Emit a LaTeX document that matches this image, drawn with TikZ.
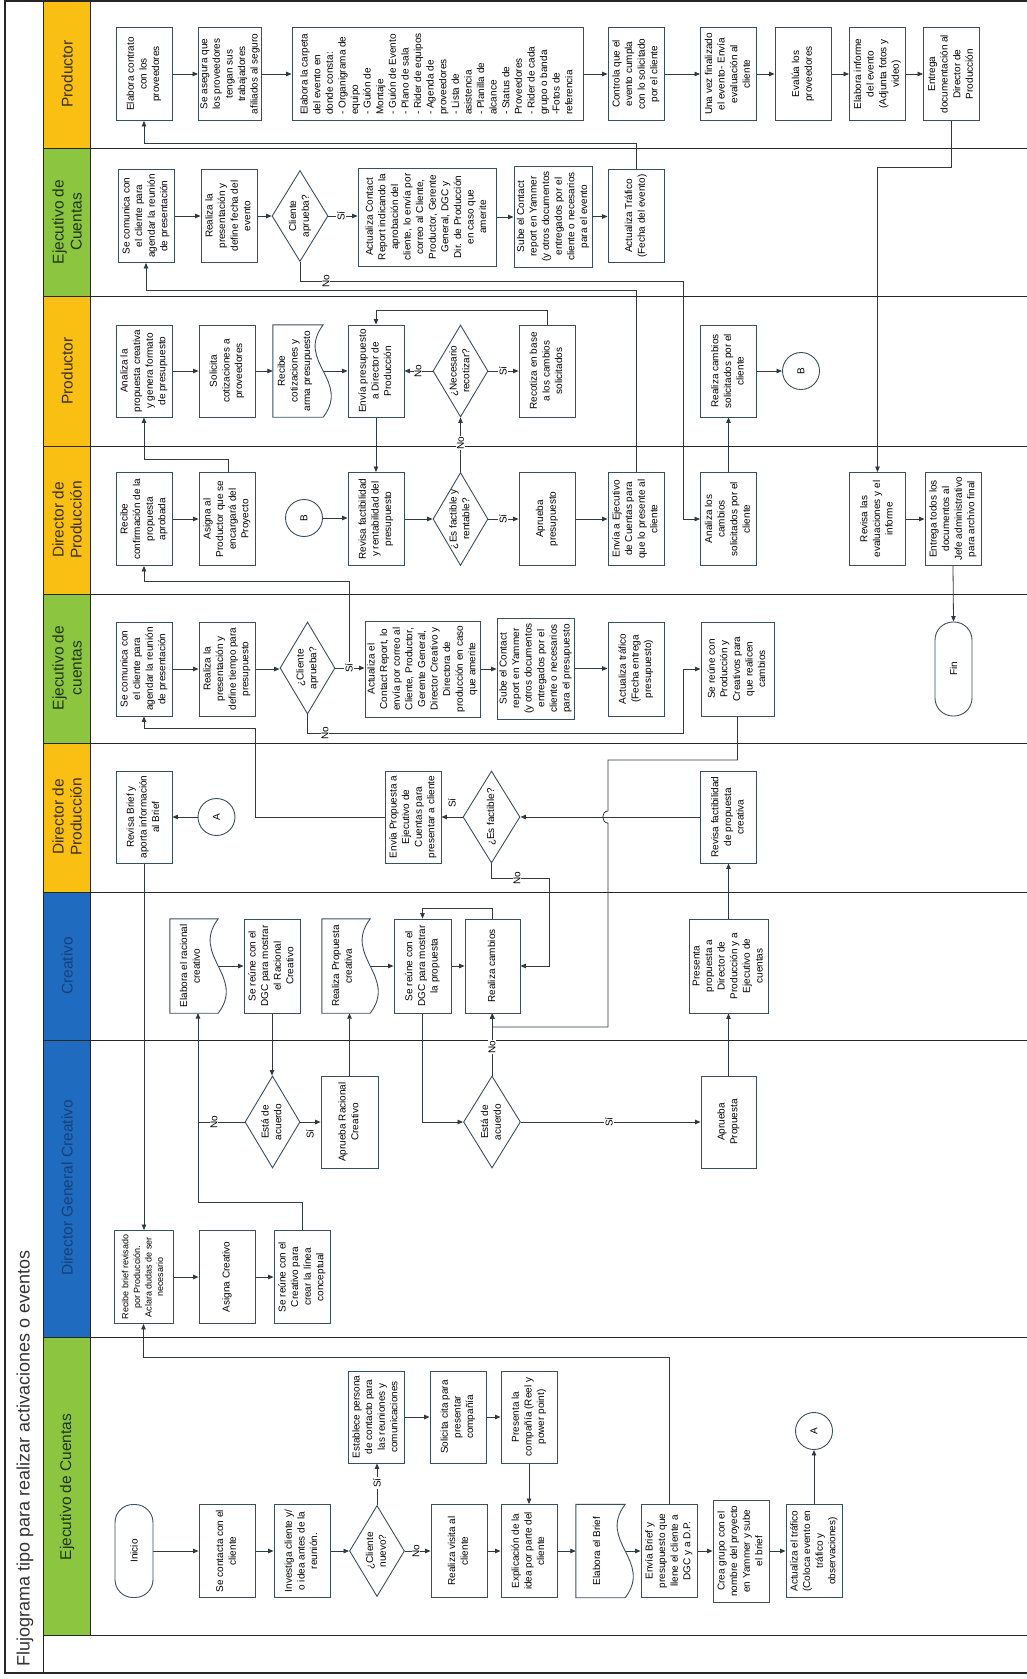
\documentclass[tikz,border=0pt]{standalone}
\usepackage{fontspec}
\setmainfont{Liberation Sans}
\usetikzlibrary{arrows.meta,shapes.geometric}
\pgfdeclarelayer{back}
\pgfdeclarelayer{bg}
\pgfdeclarelayer{mid}
\pgfsetlayers{back,bg,mid,main}
\definecolor{bc}{HTML}{3A4F5C}
\definecolor{cc}{HTML}{2E3A40}
\definecolor{ylw}{HTML}{F9C013}
\definecolor{grn}{HTML}{8CC540}
\definecolor{blu}{HTML}{1F6BC0}
\definecolor{tyl}{HTML}{3B3020}
\definecolor{tgr}{HTML}{1E3414}
\definecolor{tbl}{HTML}{17407A}
\newcommand\bxf{\fontsize{10}{12.6}\selectfont}
\newcommand\smf{\fontsize{9}{11.6}\selectfont}
\newcommand\hdf{\fontsize{15.5}{18}\selectfont}
\newcommand\rt[1]{\rotatebox{90}{\begin{tabular}{@{}c@{}}#1\end{tabular}}}
\newcommand\rtl[1]{\rotatebox{90}{\begin{tabular}{@{}l@{}}#1\end{tabular}}}
\newcommand\hh[2]{\draw[ar] (#1.east) -- (#1.east -| #2.west);}
\newcommand\docsh[1]{\draw[draw=bc,line width=0.9pt,fill=white] (#1.north west) -- (#1.north east) .. controls +(-28,37) and +(28,-37) .. (#1.south east) -- (#1.south west) -- cycle;}
\begin{document}
\begin{tikzpicture}[x=1pt,y=-1pt,
 box/.style={draw=bc,line width=0.9pt,fill=white,inner sep=0pt,font=\bxf,minimum width=56pt,minimum height=93pt},
 dia/.style={diamond,draw=bc,line width=0.9pt,fill=white,inner sep=0pt,minimum width=55pt,minimum height=92pt},
 docn/.style={inner sep=0pt,font=\bxf,minimum height=93pt},
 term/.style={rectangle,rounded corners=18pt,draw=bc,line width=0.9pt,fill=white,minimum width=38pt,minimum height=93pt,inner sep=0pt,font=\bxf},
 con/.style={circle,draw=bc,line width=0.9pt,fill=white,minimum size=37pt,inner sep=0pt,font=\bxf},
 ln/.style={draw=cc,line width=0.8pt},
 ar/.style={ln,-{Triangle[length=5.5pt,width=4.5pt]}},
 lab/.style={fill=white,inner sep=1pt,rotate=90,font=\bxf},
 dl/.style={font=\bxf,inner sep=0pt},
 hd/.style={font=\hdf,align=center,rotate=90},
 lane/.style={draw=black!85,line width=1pt},
 frame/.style={draw=black!85,line width=1.6pt}]
\useasboundingbox (0,0) rectangle (1027,1679);

% ---------------- lanes
\begin{pgfonlayer}{back}
\fill[ylw] (43,0) rectangle (90,148);
\fill[grn] (43,148) rectangle (90,296);
\fill[ylw] (43,296) rectangle (90,446);
\fill[ylw] (43,446) rectangle (90,594);
\fill[grn] (43,594) rectangle (90,743);
\fill[ylw] (43,743) rectangle (90,892);
\fill[blu] (43,892) rectangle (90,1337);
\fill[grn] (43,1337) rectangle (90,1635);
\foreach \yy in {148,296,446,594,743,892,1040,1337,1635} \draw[lane] (43,\yy) -- (1027,\yy);
\draw[lane] (90,0) -- (90,1635);
\draw[lane] (43,0) -- (43,1673);
\draw[frame] (1027,1) -- (5,1) -- (5,1673) -- (1027,1673);
\end{pgfonlayer}

\node[rotate=90,font=\fontsize{18}{20}\selectfont,text=black!80] (title) at (25,1458) {Flujograma tipo para realizar activaciones o eventos};
\node[hd,text=tyl] (h1) at (67,74) {Productor};
\node[hd,text=tgr] (h2) at (67,222) {Ejecutivo de\\Cuentas};
\node[hd,text=tyl] (h3) at (67,371) {Productor};
\node[hd,text=tyl] (h4) at (67,520) {Director de\\Producción};
\node[hd,text=tgr] (h5) at (67,668) {Ejecutivo de\\cuentas};
\node[hd,text=tyl] (h6) at (67,817) {Director de\\Producción};
\node[hd,text=tbl] (h7) at (67,966) {Creativo};
\node[hd,text=tbl] (h8) at (67,1188) {Director General Creativo};
\node[hd,text=tgr] (h9) at (67,1487) {Ejecutivo de Cuentas};

% ---------------- lane 1 Productor
\node[box] (P1) at (144,74) {\rt{Elabora contrato\\con los\\proveedores}};
\node[box,minimum width=62pt] (P2) at (230,74) {\rt{Se asegura que\\los proveedores\\tengan sus\\trabajadores\\afiliados al seguro}};
\node[box,minimum width=291pt] (P3) at (437.5,74) {\rtl{Elabora la carpeta\\del evento en\\donde consta:\\- Organigrama de\\equipo\\- Guión de\\Montaje\\- Guión de Evento\\- Plano de sala\\- Rider de equipos\\- Agenda de\\proveedores\\- Lista de\\asistencia\\- Planilla de\\alcance\\- Status de\\Proveedores\\- Rider de cada\\grupo o banda\\-Fotos de\\referencia}};
\node[box] (P4) at (636,74) {\rt{Controla que el\\evento cumpla\\con lo solicitado\\por el cliente}};
\node[box] (P5) at (728.5,74) {\rt{Una vez finalizado\\el evento- Envía\\evaluación al\\cliente}};
\node[box] (P6) at (803,74) {\rt{Evalúa los\\proveedores}};
\node[box] (P7) at (877.5,74) {\rt{Elabora informe\\del evento\\(Adjunta fotos y\\video)}};
\node[box] (P8) at (951.5,74) {\rt{Entrega\\documentación al\\Director de\\Producción}};

% ---------------- lane 2 Ejecutivo de Cuentas
\node[box] (S1) at (146,216) {\rt{Se comunica con\\el cliente para\\agendar la reunión\\de presentación}};
\node[box] (S2) at (229,216) {\rt{Realiza la\\presentación y\\define fecha del\\evento}};
\node[dia,minimum width=56pt,minimum height=91pt] (DS) at (300,216) {};
\node[dl] (DSt) at (DS) {\rt{Cliente\\aprueba?}};
\node[box,minimum width=138pt,minimum height=98pt] (S3) at (427,217) {\rt{Actualiza Contact\\Report indicando la\\aprobación del\\cliente, lo envía por\\correo al Cliente,\\Productor, Gerente\\General, DGC y\\Dir. de Producción\\en caso que\\amerite}};
\node[box,minimum width=78pt,minimum height=101pt] (S4) at (553,216.5) {\rt{Sube el Contact\\report en Yammer\\(y otros documentos\\entregados por el\\cliente o necesarios\\para el evento}};
\node[box] (S5) at (636,216) {\rt{Actualiza Tráfico\\(Fecha del evento)}};

% ---------------- lane 3 Productor
\node[box,minimum height=92pt] (O1) at (144,371) {\rt{Analiza la\\propuesta creativa\\y genera formato\\de presupuesto}};
\node[box,minimum height=92pt] (O2) at (227,371) {\rt{Solicita\\cotizaciones a\\proveedores}};
\node[docn,minimum width=50pt,minimum height=92pt] (O3) at (298,371) {};
\node[box,minimum height=92pt] (O4) at (376,371) {\rt{Envía presupuesto\\a Director de\\Producción}};
\node[dia] (DO) at (460.5,371) {};
\node[dl] (DOt) at (DO) {\rt{¿Necesario\\recotizar?}};
\node[box,minimum height=92pt] (O6) at (547,371) {\rt{Recotiza en base\\a los cambios\\solicitados}};
\node[box,minimum height=92pt] (O7) at (728.5,371) {\rt{Realiza cambios\\solicitados por el\\cliente}};
\node[con] (B2) at (801,371) {\rotatebox{90}{B}};

% ---------------- lane 4 Director de Produccion
\node[box] (Q1) at (144,519) {\rt{Recibe\\confirmación de la\\propuesta\\aprobada}};
\node[box] (Q2) at (227,519) {\rt{Asigna al\\Productor que se\\encargará del\\Proyecto}};
\node[con] (B1) at (304,518) {\rotatebox{90}{B}};
\node[box] (Q3) at (376,519) {\rt{Revisa factibilidad\\y rentabilidad del\\presupuesto}};
\node[dia,minimum height=93pt] (DQ) at (460.5,519) {};
\node[dl] (DQt) at (DQ) {\rt{¿Es factible y\\rentable?}};
\node[box] (Q4) at (547,519) {\rt{Aprueba\\presupuesto}};
\node[box] (Q5) at (636,519) {\rt{Envía a Ejecutivo\\de Cuentas para\\que lo presente al\\cliente}};
\node[box] (Q6) at (728.5,519) {\rt{Analiza los\\cambios\\solicitados por el\\cliente}};
\node[box] (Q7) at (877.5,519) {\rt{Revisa las\\evaluaciones y el\\informe}};
\node[box] (Q8) at (953,519) {\rt{Entrega todos los\\documentos al\\Jefe administrativo\\para archivo final}};

% ---------------- lane 5 Ejecutivo de cuentas
\node[box,minimum height=94pt] (F1) at (144,669) {\rt{Se comunica con\\el cliente para\\agendar la reunión\\de presentación}};
\node[box,minimum height=94pt] (F2) at (227,669) {\rt{Realiza la\\presentación y\\define tiempo para\\presupuesto}};
\node[dia] (DF) at (307.5,668) {};
\node[dl] (DFt) at (DF) {\rt{¿Cliente\\aprueba?}};
\node[box,minimum width=115pt,minimum height=96pt] (F3) at (422.5,669) {\rt{Actualiza el\\Contact Report, lo\\envía por correo al\\Cliente, Productor,\\Gerente General,\\Director Creativo y\\Directora de\\producción en caso\\que amerite}};
\node[box,minimum width=77pt,minimum height=101pt] (F4) at (535.5,668.5) {\rt{Sube el Contact\\report en Yammer\\(y otros documentos\\entregados por el\\cliente o necesarios\\para el presupuesto}};
\node[box,minimum height=94pt] (F5) at (636,669) {\rt{Actualiza tráfico\\(Fecha entrega\\presupuesto)}};
\node[box,minimum width=73pt,minimum height=94pt] (F7) at (737.5,669) {\rt{Se reúne con\\Producción y\\Creativos para\\que realicen\\cambios}};
\node[term,minimum width=37pt,minimum height=94pt] (Fin) at (953.5,669) {\rotatebox{90}{Fin}};

% ---------------- lane 6 Director de Produccion
\node[box,minimum height=92pt] (R1) at (144,817) {\rt{Revisa Brief y\\aporta información\\al Brief}};
\node[con] (A1) at (216.5,817) {\rotatebox{90}{A}};
\node[box,minimum height=92pt] (R2) at (413,817) {\rt{Envía Propuesta a\\Ejecutivo de\\Cuentas para\\presentar a cliente}};
\node[dia,minimum width=57pt] (DR) at (491.5,817) {};
\node[dl] (DRt) at (DR) {\rt{¿Es factible?}};
\node[box,minimum height=92pt] (R3) at (728.5,817) {\rt{Revisa factibilidad\\de propuesta\\creativa}};

% ---------------- lane 7 Creativo
\node[docn,minimum width=48pt,minimum height=94pt] (C1) at (194,966) {};
\node[box,minimum height=94pt] (C2) at (272,966) {\rt{Se reúne con el\\DGC para mostrar\\el Racional\\Creativo}};
\node[docn,minimum width=48pt,minimum height=94pt] (C3) at (346,966) {};
\node[box,minimum width=57pt,minimum height=94pt] (C4) at (422.5,966) {\rt{Se reúne con el\\DGC para mostrar\\la propuesta}};
\node[box,minimum width=55pt,minimum height=94pt] (C5) at (492.5,966) {\rt{Realiza cambios}};
\node[box,minimum width=79pt,minimum height=94pt] (C6) at (728.5,966) {\rt{Presenta\\propuesta a\\Director de\\Producción y a\\Ejecutivo de\\cuentas}};

% ---------------- lane 8 Director General Creativo
\node[dia] (DG1) at (272.5,1122) {};
\node[dl] (DG1t) at (DG1) {\rt{Está de\\acuerdo}};
\node[box,minimum width=57pt,minimum height=92pt] (G4) at (349.5,1122) {\rt{Aprueba Racional\\Creativo}};
\node[dia,minimum width=57pt] (DG2) at (492,1122) {};
\node[dl] (DG2t) at (DG2) {\rt{Está de\\acuerdo}};
\node[box,minimum width=55pt,minimum height=92pt] (G5) at (728.5,1122) {\rt{Aprueba\\Propuesta}};
\node[box,minimum width=59pt,font=\smf] (G1) at (143.5,1277) {\rt{Recibe brief revisado\\por Producción.\\Aclara dudas de ser\\necesario}};
\node[box] (G2) at (227,1277) {\rt{Asigna Creativo}};
\node[box] (G3) at (302,1277) {\rt{Se reúne con el\\Creativo para\\crear la línea\\conceptual}};

% ---------------- lane 9 Ejecutivo de Cuentas
\node[box,minimum height=92pt] (E9a) at (376,1417) {\rt{Establece persona\\de contacto para\\las reuniones y\\comunicaciones}};
\node[box,minimum height=92pt] (E9b) at (458,1417) {\rt{Solicita cita para\\presentar\\compañía}};
\node[box,minimum height=92pt] (E9c) at (529,1417) {\rt{Presenta la\\compañía (Reel y\\power point)}};
\node[term] (Ini) at (134,1551) {\rotatebox{90}{Inicio}};
\node[box] (E1) at (227,1551) {\rt{Se contacta con el\\cliente}};
\node[box] (E2) at (302,1551) {\rt{Investiga cliente y/\\o idea antes de la\\reunión.}};
\node[dia,minimum height=91pt] (DN) at (377,1551) {};
\node[dl] (DNt) at (DN) {\rt{¿Cliente\\nuevo?}};
\node[box] (E3) at (459,1551) {\rt{Realiza visita al\\cliente}};
\node[box] (E4) at (529,1551) {\rt{Explicación de la\\idea por parte del\\cliente}};
\node[docn,minimum width=49pt] (E5) at (600.5,1551) {};
\node[box] (E6) at (669,1551) {\rt{Envía Brief  y\\presupuesto que\\llene el cliente a\\DGC y a D.P.}};
\node[box,minimum height=102pt] (E7) at (741,1551) {\rt{Crea grupo con el\\nombre del proyecto\\en Yammer y sube\\el brief}};
\node[box] (E8) at (814,1551) {\rt{Actualiza el tráfico\\(Coloca evento en\\tráfico y\\observaciones)}};
\node[con] (A2) at (814,1431) {\rotatebox{90}{A}};

% ---------------- document shapes
\begin{pgfonlayer}{mid}
\docsh{O3}\docsh{C1}\docsh{C3}\docsh{E5}
\end{pgfonlayer}
\node[dl] (O3t) at ([xshift=-3pt]O3.center) {\rt{Recibe\\cotizaciones y\\arma presupuesto}};
\node[dl] (C1t) at ([xshift=-3pt]C1.center) {\rt{Elabora el racional\\creativo}};
\node[dl] (C3t) at ([xshift=-3pt]C3.center) {\rt{Realiza Propuesta\\creativa}};
\node[dl] (E5t) at ([xshift=-3pt]E5.center) {\rt{Elabora el Brief}};

% ---------------- connectors
\begin{pgfonlayer}{bg}
% lane 1
\hh{P1}{P2}\hh{P2}{P3}\hh{P3}{P4}\hh{P4}{P5}\hh{P5}{P6}\hh{P6}{P7}\hh{P7}{P8}
\draw[ar] (S5.north) -- (636,143) -- (144,143) -- (P1.south);
\draw[ar] (P8.south) -- (951.5,167) -- (877.5,167) -- (Q7.north);
% lane 2
\hh{S1}{S2}\hh{S2}{DS}
\draw[ar] (DS.east) -- (DS.east -| S3.west);
\hh{S3}{S4}\hh{S4}{S5}
\draw[ar] (DS.south) -- (300,281) -- (683,281) -- (683,519) -- (Q6.west);
\draw[ar] (Q5.north) -- (636,290) -- (146,290) -- (S1.south);
% lane 3
\hh{O1}{O2}\hh{O2}{O3}\hh{O3}{O4}
\draw[ar] (DO.west) -- (O4.east);
\draw[ar] (DO.east) -- (O6.west);
\draw[ar] (O6.north) -- (547,310) -- (376,310) -- (O4.north);
\draw[ar] (O4.south) -- (Q3.north);
\draw[ar] (O7.east) -- (B2.west);
\draw[ar] (228,472.5) -- (228,459) -- (144,459) -- (O1.south);
\draw[ar] (Q6.north) -- (O7.south);
\draw[ar] (DQ.north) -- (DO.south);
% lane 4
\hh{Q1}{Q2}
\draw[ar] (B1.east) -- (B1.east -| Q3.west);
\hh{Q3}{DQ}\hh{DQ}{Q4}\hh{Q4}{Q5}\hh{Q7}{Q8}
\draw[ar] (Q8.south) -- (Fin.north);
\draw[ar] (349,668) -- (349,581) -- (144,581) -- (Q1.south);
% lane 5
\hh{F1}{F2}\hh{F2}{DF}\hh{DF}{F3}\hh{F3}{F4}\hh{F4}{F5}
\draw[ar] (DF.south) -- (307.5,733) -- (683,733) -- (683,669) -- (F7.west);
\draw[ar] (R2.west) -- (255,817) -- (255,728) -- (144,728) -- (F1.south);
\draw[ar] (F7.south) -- (737.5,760) -- (608,760) -- (608,811) .. controls (601,811) and (601,823) .. (608,823) -- (608,1027) -- (492.5,1027) -- (C5.south);
% lane 6
\draw[ar] (A1.west) -- (R1.east);
\draw[ar] (DR.west) -- (R2.east);
\draw[ar] (R3.west) -- (DR.east);
\draw[ar] (DR.south) -- (491.5,878) -- (549,878) -- (549,966) -- (C5.east);
\draw[ar] (R1.south) -- (G1.north -| R1.south);
\draw[ar] (C6.north) -- (R3.south);
% lane 7
\hh{C1}{C2}\hh{C3}{C4}\hh{C4}{C5}
\draw[ar] (C5.north) -- (492.5,908) -- (422.5,908) -- (C4.north);
\draw[ar] (C2.south) -- (C2.south |- DG1.north);
\draw[ar] (C4.south) -- (422.5,1122) -- (DG2.west);
\draw[ar] (G5.north) -- (C6.south);
% lane 8
\draw[ln] (DG1.west) -- (198,1122);
\draw[ar] (G3.north) -- (302,1202) -- (198,1202) -- (198,1013);
\draw[ar] (DG1.east) -- (G4.west);
\draw[ar] (G4.north) -- (G4.north |- C3.south);
\draw[ar] (DG2.north) -- (DG2.north |- C5.south);
\draw[ar] (DG2.east) -- (G5.west);
\hh{G1}{G2}\hh{G2}{G3}
\draw[ar] (E6.north) -- (669,1357) -- (143.5,1357) -- (G1.south);
% lane 9
\hh{Ini}{E1}\hh{E1}{E2}\hh{E2}{DN}\hh{DN}{E3}\hh{E3}{E4}\hh{E4}{E5}\hh{E5}{E6}\hh{E6}{E7}\hh{E7}{E8}
\draw[ar] (DN.north) -- (DN.north |- E9a.south);
\hh{E9a}{E9b}\hh{E9b}{E9c}
\draw[ar] (E9c.south) -- (E4.north);
\draw[ar] (E8.north) -- (A2.south);
\end{pgfonlayer}

% ---------------- labels
\node[lab] (l1) at (341,216) {Sí};
\node[lab] (l2) at (326,281) {No};
\node[lab] (l3) at (418,371) {No};
\node[lab] (l4) at (503,371) {Sí};
\node[lab] (l5) at (460.5,443) {No};
\node[lab] (l6) at (503,519) {Sí};
\node[lab] (l7) at (349,668) {Sí};
\node[lab] (l8) at (325,733) {No};
\node[lab] (l9) at (452,803) {Sí};
\node[lab] (l10) at (517,878) {No};
\node[lab] (l11) at (214,1122) {No};
\node[lab] (l12) at (310,1134) {Sí};
\node[lab] (l13) at (492,1047) {No};
\node[lab] (l14) at (609,1122) {Sí};
\node[lab] (l15) at (377,1483) {Sí};
\node[lab] (l16) at (416,1551) {No};
\end{tikzpicture}
\end{document}
